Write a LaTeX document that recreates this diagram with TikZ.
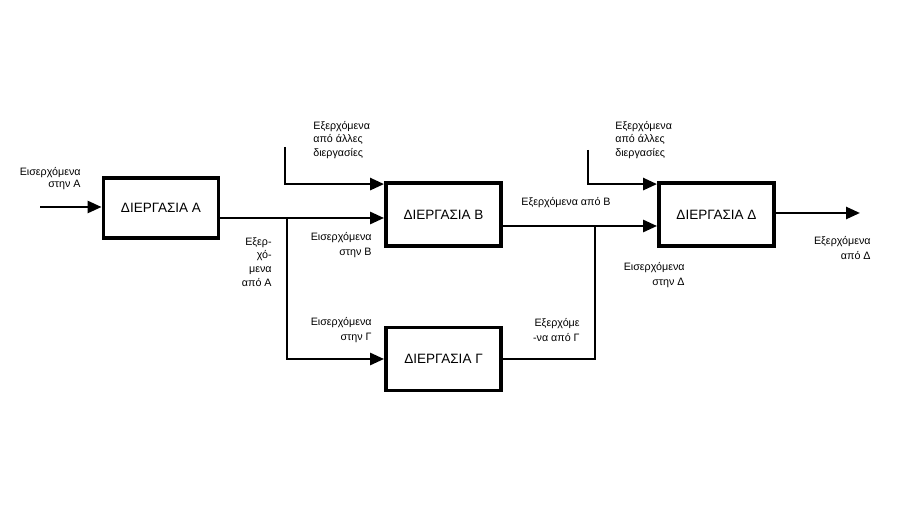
\documentclass[tikz,border=0pt]{standalone}
\usepackage{fontspec}
\setmainfont{Liberation Sans}
\usetikzlibrary{positioning, arrows.meta}

\begin{document}
\begin{tikzpicture}[
  x=0.02cm, y=-0.02cm,
  >={Triangle[length=0.28cm,width=0.24cm]},
  proc/.style={draw=black, line width=2.2pt, fill=white,
               minimum width=2.3cm, minimum height=1.26cm, inner sep=0pt,
               font=\fontsize{7.7}{9}\selectfont},
  flow/.style={line width=1.5pt},
  thinflow/.style={line width=1.1pt},
  lbl/.style={inner sep=0pt, font=\fontsize{6.1}{7.9}\selectfont},
]

% fixed frame of the picture
\useasboundingbox (0,0) rectangle (900,509);

% =====================================================================
% Processes
% =====================================================================
\node[proc, minimum height=1.2cm] (pA) at (161,208)   {ΔΙΕΡΓΑΣΙΑ Α};
\node[proc] (pB) at (443.5,214.5) {ΔΙΕΡΓΑΣΙΑ Β};
\node[proc] (pG) at (443.5,359)   {ΔΙΕΡΓΑΣΙΑ Γ};
\node[proc] (pD) at (716.5,214.5) {ΔΙΕΡΓΑΣΙΑ Δ};

% =====================================================================
% Junctions and free ends
% =====================================================================
\coordinate (inA)  at (40,207);    % input of A
\coordinate (jA)   at (287,218);   % split after A
\coordinate (jB)   at (595,226);   % merge before D
\coordinate (othB) at (285,147);   % other processes -> B
\coordinate (othD) at (588,150);   % other processes -> D
\coordinate (outD) at (860,213);   % output of D

% =====================================================================
% Flows
% =====================================================================
\draw[flow, ->] (inA) -- (inA -| pA.west);

% A -> B and A -> G
\draw[thinflow] (pA.east |- jA) -- (jA);
\draw[flow, ->] (jA) -- (jA -| pB.west);
\draw[flow, ->] (jA) |- (pG.west);

% other processes -> B, D
\draw[flow, ->] (othB) |- ([yshift=-0.06cm]pB.north west);
\draw[flow, ->] (othD) |- ([yshift=-0.06cm]pD.north west);

% B, G -> D
\draw[thinflow] (pB.east |- jB) -- (jB);
\draw[thinflow] (pG.east) -| (jB);
\draw[flow, ->] (jB) -- (jB -| pD.west);

% D -> out
\draw[flow, ->] (outD -| pD.east) -- (outD);

% =====================================================================
% Labels
% =====================================================================
\node[lbl, align=right, anchor=east, font=\fontsize{6.1}{6.9}\selectfont]
  (tInA) at (81,179) {Εισερχόμενα\\στην Α};
\node[lbl, align=right, anchor=east] (tOutA) at (272,262) {Εξερ-\\χό-\\μενα\\από Α};
\node[lbl, align=left, anchor=west] (tOthB) at (313,140) {Εξερχόμενα\\από άλλες\\διεργασίες};
\node[lbl, align=right, anchor=east, font=\fontsize{6.1}{9}\selectfont]
  (tInB) at (372,245) {Εισερχόμενα\\στην Β};
\node[lbl, align=right, anchor=east, font=\fontsize{6.1}{8.3}\selectfont]
  (tInG) at (372,330) {Εισερχόμενα\\στην Γ};
\node[lbl, anchor=west] (tOutB) at (521,203) {Εξερχόμενα από Β};
\node[lbl, align=right, anchor=east, font=\fontsize{6.1}{8.3}\selectfont]
  (tOutG) at (580,330) {Εξερχόμε\\-να από Γ};
\node[lbl, align=left, anchor=west] (tOthD) at (615,140) {Εξερχόμενα\\από άλλες\\διεργασίες};
\node[lbl, align=right, anchor=east, font=\fontsize{6.1}{8.3}\selectfont]
  (tInD) at (685,275) {Εισερχόμενα\\στην Δ};
\node[lbl, align=right, anchor=east, font=\fontsize{6.1}{8.3}\selectfont]
  (tOutD) at (871,248) {Εξερχόμενα\\από Δ};

\end{tikzpicture}
\end{document}
